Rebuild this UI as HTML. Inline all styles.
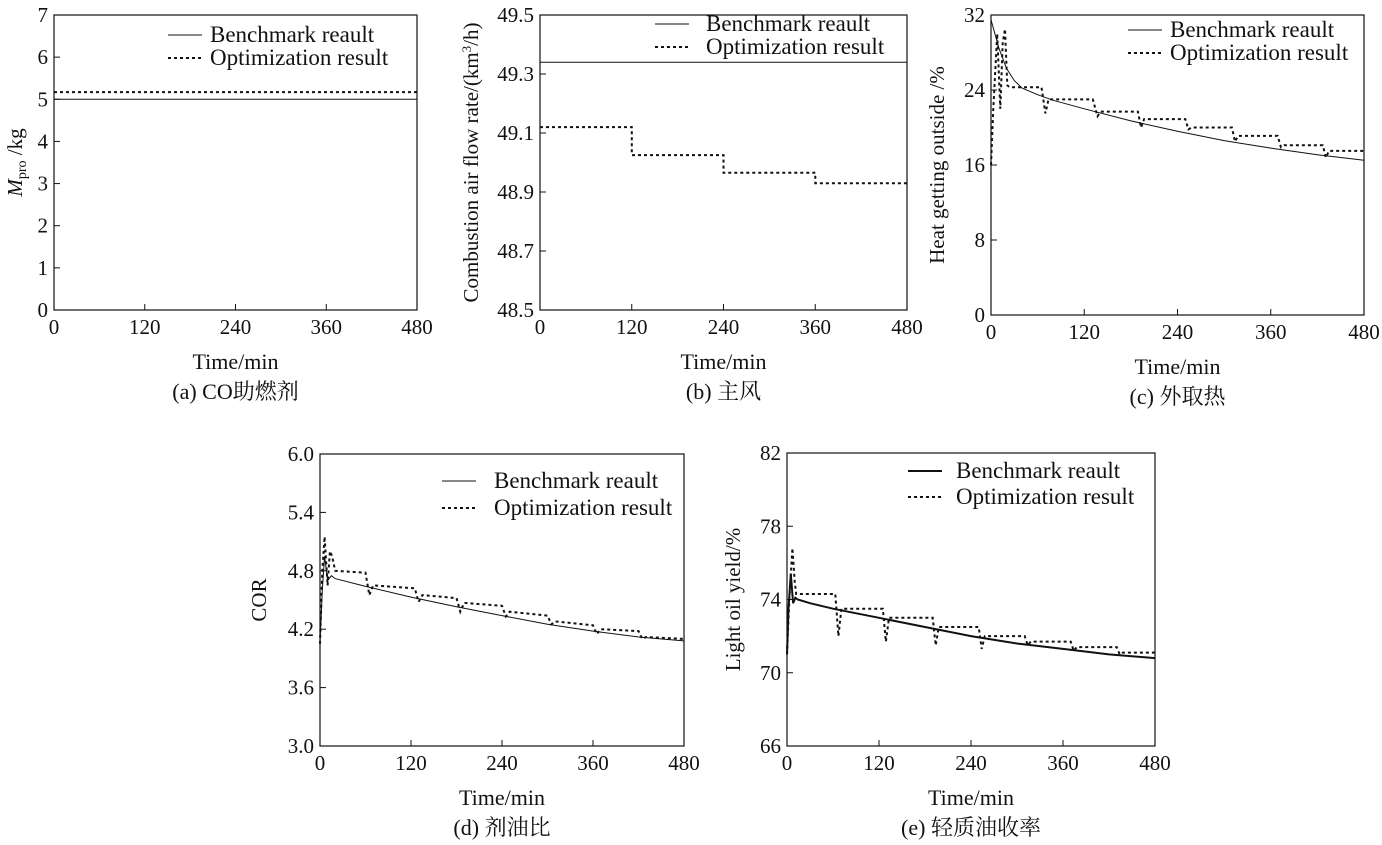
<!DOCTYPE html>
<html><head><meta charset="utf-8"><style>
body{margin:0;background:#fff}
svg text{font-family:"Liberation Serif","Noto Serif CJK SC",serif;fill:#111}
</style></head><body>
<svg id="s" width="1382" height="840" xmlns="http://www.w3.org/2000/svg"></svg>
<script>
const NS="http://www.w3.org/2000/svg";
const xTicks=[0,120,240,360,480];
// (a)
const aBenchT=[0,480], aBenchV=[5,5];
const aOptT=[0,480], aOptV=[5.17,5.17];
const aYTicks=[0,1,2,3,4,5,6,7];
// (b)
const bBenchT=[0,480], bBenchV=[49.34,49.34];
const bOptT=[0,120,120,240,240,360,360,480];
const bOptV=[49.12,49.12,49.025,49.025,48.965,48.965,48.93,48.93];
const bYTicks=[48.5,48.7,48.9,49.1,49.3,49.5];
// (c)
const cBenchT=[0,5,10,20,30,40,60,80,120,180,240,300,360,420,480];
const cBenchV=[31.5,30,28.5,26.3,25,24.2,23.5,22.9,22,20.7,19.6,18.6,17.8,17.1,16.5];
const cOptT=[0,3,8,12,15,18,21,24,65,70,74,131,137,141,189,193,197,250,254,258,310,314,318,369,373,377,427,431,435,480];
const cOptV=[16,22,30,22,29,30.5,24.5,24.3,24.3,21.5,23,23,21.2,21.7,21.7,20,20.9,20.9,19.8,20,20,18.5,19.1,19.1,17.9,18.1,18.1,16.8,17.5,17.5];
const cYTicks=[0,8,16,24,32];
// (d)
const dBenchT=[0,3,6,10,15,20,60,120,180,240,300,360,420,480];
const dBenchV=[4.05,4.6,4.95,4.7,4.75,4.72,4.64,4.53,4.43,4.34,4.25,4.18,4.12,4.08];
const dOptT=[0,3,6,10,13,16,20,60,65,70,125,130,135,180,185,190,240,245,250,300,305,310,360,365,370,420,425,430,480];
const dOptV=[4.05,4.8,5.15,4.65,5.0,4.95,4.8,4.78,4.55,4.65,4.62,4.48,4.55,4.52,4.38,4.47,4.44,4.33,4.38,4.34,4.25,4.28,4.24,4.15,4.2,4.18,4.1,4.12,4.1];
const dYTicks=[3.0,3.6,4.2,4.8,5.4,6.0];
// (e)
const eBenchT=[0,2,5,8,11,14,30,60,120,180,240,300,360,420,480];
const eBenchV=[71,73.5,75.4,73.8,74.1,74.0,73.8,73.5,73.0,72.5,72.0,71.6,71.3,71.0,70.8];
const eOptT=[0,3,7,10,12,63,67,71,125,129,133,190,194,198,250,254,258,310,314,318,370,374,378,430,434,438,480];
const eOptV=[71,74,76.8,75,74.3,74.3,72,73.5,73.5,71.7,73,73,71.5,72.5,72.5,71.3,72,72,71.5,71.7,71.7,71.2,71.4,71.4,71.0,71.1,71.1];
const eYTicks=[66,70,74,78,82];

const svg=document.getElementById('s');
function el(tag,attrs,parent){const e=document.createElementNS(NS,tag);for(const k in attrs)e.setAttribute(k,attrs[k]);(parent||svg).appendChild(e);return e;}
function txt(x,y,s,attrs,parent){const t=el('text',Object.assign({x:x,y:y,'font-size':22},attrs||{}),parent);t.textContent=s;return t;}

function panel(p){
  const g=el('g',{});
  
  
  const X=v=>p.x0+(v-0)/480*(p.x1-p.x0);
  const Y=v=>p.y1-(v-p.ymin)/(p.ymax-p.ymin)*(p.y1-p.y0);
  const frame=el('rect',{x:p.x0,y:p.y0,width:p.x1-p.x0,height:p.y1-p.y0,fill:'none',stroke:'#111','stroke-width':1.2},g);
  
  
  xTicks.forEach(t=>{
    el('line',{x1:X(t),x2:X(t),y1:p.y1,y2:p.y1-6,stroke:'#111'},g);
    const l=txt(X(t),p.y1+24,String(t),{'text-anchor':'middle','font-size':21},g);
    
    
  });
  p.yt.forEach(t=>{
    el('line',{x1:p.x0,x2:p.x0+6,y1:Y(t),y2:Y(t),stroke:'#111'},g);
    const l=txt(p.x0-6,Y(t)+7,p.fmt(t),{'text-anchor':'end','font-size':21},g);
    
    
  });
  const cx=(p.x0+p.x1)/2;
  const xt=txt(cx,p.y1+59,'Time/min',{'text-anchor':'middle'},g);
  
  
  const cap=txt(cx,p.y1+89,p.caption,{'text-anchor':'middle'},g);
  
  
  const yt=el('text',{x:0,y:0,'font-size':21,'text-anchor':'middle',transform:`translate(${p.ylx},${(p.y0+p.y1)/2}) rotate(-90)`},g);
  yt.innerHTML=p.ylabel;
  
  
  const path=(T,V)=>T.map((t,i)=>(i?'L':'M')+X(t).toFixed(1)+','+Y(V[i]).toFixed(1)).join('');
  const b=el('path',{d:path(p.bt,p.bv),fill:'none',stroke:'#111','stroke-width':p.bw||1},g);
  
  
  const o=el('path',{d:path(p.ot,p.ov),fill:'none',stroke:'#111','stroke-width':2,'stroke-dasharray':'3,3'},g);
  
  
  const L=p.leg;
  el('line',{x1:L[0],x2:L[0]+34,y1:L[1],y2:L[1],stroke:'#111','stroke-width':p.bw||1},g);
  el('line',{x1:L[0],x2:L[0]+34,y1:L[1]+L[3],y2:L[1]+L[3],stroke:'#111','stroke-width':2,'stroke-dasharray':'3,3'},g);
  const l1=txt(L[2],L[1]+7,'Benchmark reault',{'font-size':23},g);
  
  
  const l2=txt(L[2],L[1]+L[3]+7,'Optimization result',{'font-size':23},g);
  
  
}
const f0=v=>String(v), f1=v=>v.toFixed(1);
panel({name:'panel-a',x0:54,x1:417,y0:15,y1:310,ymin:0,ymax:7,yt:aYTicks,fmt:f0,bt:aBenchT,bv:aBenchV,ot:aOptT,ov:aOptV,
  caption:'(a) CO助燃剂',ylx:22,ylabel:'<tspan font-style="italic">M</tspan><tspan font-size="14" dy="4">pro</tspan><tspan dy="-4"> /kg</tspan>',leg:[168,35,210,23]});
panel({name:'panel-b',x0:540,x1:907,y0:15,y1:310,ymin:48.5,ymax:49.5,yt:bYTicks,fmt:f1,bt:bBenchT,bv:bBenchV,ot:bOptT,ov:bOptV,
  caption:'(b) 主风',ylx:478,ylabel:'Combustion air flow rate/(km<tspan font-size="13" dy="-7">3</tspan><tspan dy="7">/h)</tspan>',leg:[655,24,706,23]});
panel({name:'panel-c',x0:991,x1:1364,y0:15,y1:315,ymin:0,ymax:32,yt:cYTicks,fmt:f0,bt:cBenchT,bv:cBenchV,ot:cOptT,ov:cOptV,
  caption:'(c) 外取热',ylx:944,ylabel:'Heat getting outside /%',leg:[1128,30,1170,23]});
panel({name:'panel-d',x0:320,x1:684,y0:454,y1:746,ymin:3,ymax:6,yt:dYTicks,fmt:f1,bt:dBenchT,bv:dBenchV,ot:dOptT,ov:dOptV,
  caption:'(d) 剂油比',ylx:266,ylabel:'COR',leg:[442,481,494,27]});
panel({name:'panel-e',x0:787,x1:1155,y0:453,y1:746,ymin:66,ymax:82,yt:eYTicks,fmt:f0,bt:eBenchT,bv:eBenchV,ot:eOptT,ov:eOptV,
  caption:'(e) 轻质油收率',ylx:740,ylabel:'Light oil yield/%',bw:2,leg:[908,471,956,26]});
</script>
</body></html>
